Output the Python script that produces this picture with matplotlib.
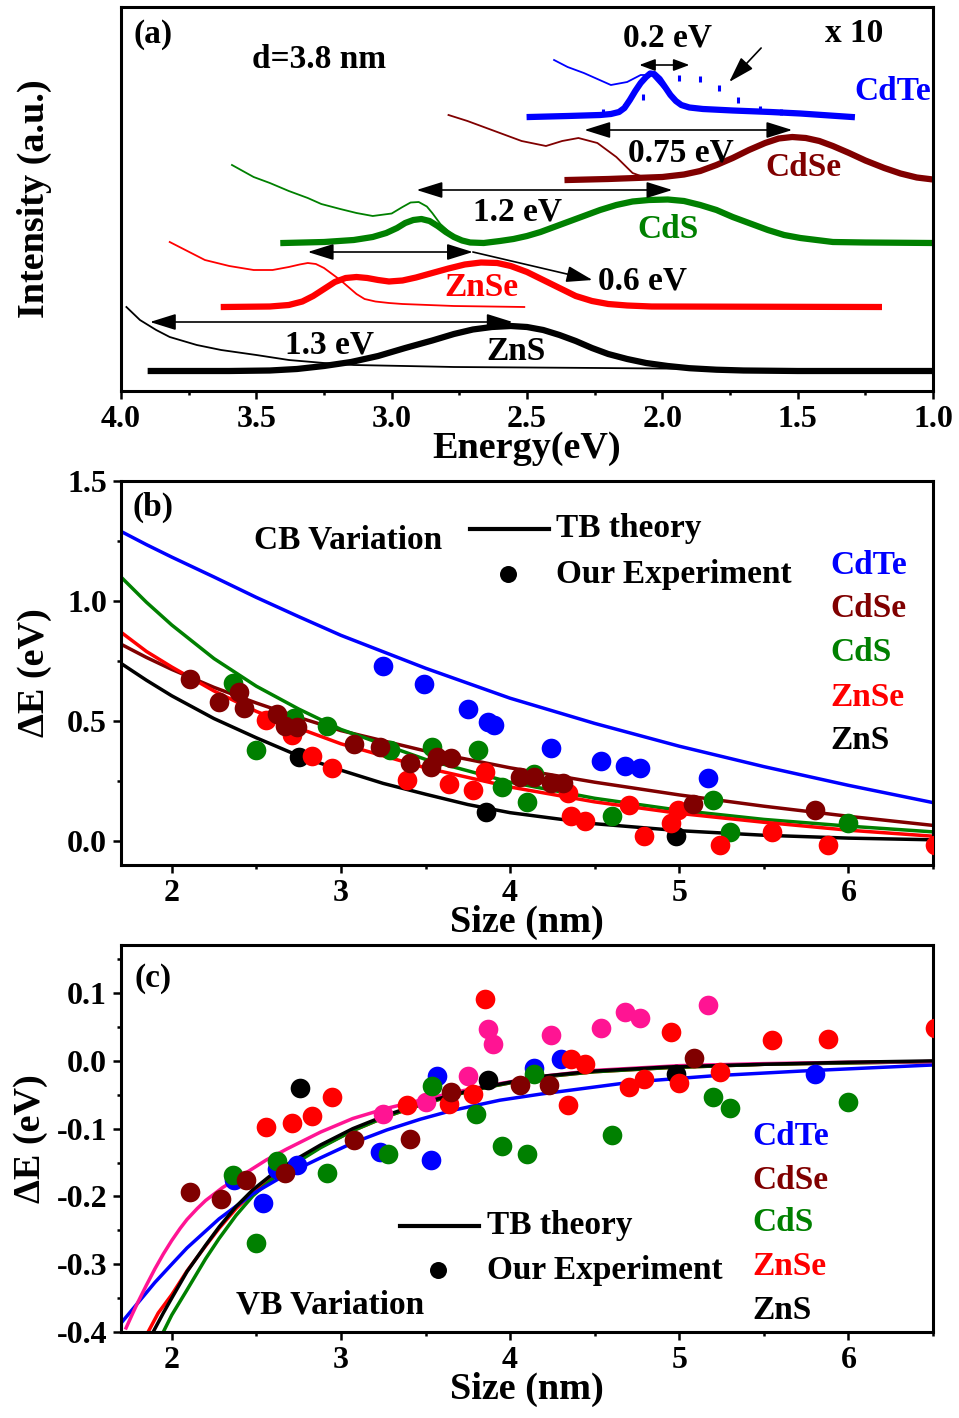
import numpy as np
import matplotlib
matplotlib.use("Agg")
import matplotlib.pyplot as plt
from matplotlib.ticker import MultipleLocator

plt.rcParams['font.family'] = ['Liberation Serif', 'DejaVu Serif']
plt.rcParams['font.weight'] = 'bold'
plt.rcParams['axes.labelweight'] = 'bold'

BLUE = '#0000ff'
DRED = '#800000'
GREEN = '#008000'
RED = '#ff0000'
BLACK = '#000000'
PINK = '#ff1493'

# ---------------- panel (a): spectra (energy in eV, intensity a.u.) ----------------
zns_pl_e = [3.89, 3.6, 3.45, 3.35, 3.25, 3.15, 3.05, 2.95, 2.85, 2.77, 2.70, 2.63, 2.56, 2.50, 2.44,
            2.38, 2.32, 2.26, 2.20, 2.13, 2.06, 1.98, 1.90, 1.80, 1.70, 1.5, 1.0]
zns_pl_i = [20, 20, 20.5, 22, 25, 29, 35, 43, 50.5, 57, 61.5, 64, 65, 64, 61,
            56, 50, 43, 37, 32, 28, 25, 22.8, 21.3, 20.5, 20, 20]
zns_abs_e = [3.98, 3.93, 3.87, 3.82, 3.72, 3.63, 3.5, 3.38, 3.25, 3.14, 2.95, 2.77, 2.5, 2.23, 1.8, 1.0]
zns_abs_i = [84, 71, 61, 54, 46, 41, 36, 31, 28, 26, 25, 24, 23.5, 23, 22, 21]

znse_pl_e = [3.62, 3.45, 3.38, 3.33, 3.29, 3.25, 3.21, 3.17, 3.13, 3.09, 3.05, 3.01, 2.96, 2.91, 2.85,
             2.79, 2.73, 2.67, 2.61, 2.56, 2.50, 2.44, 2.38, 2.32, 2.26, 2.20, 2.13, 2.04, 1.20]
znse_pl_i = [84, 84.5, 86, 89.5, 95, 102, 109, 113, 114, 113, 111, 109.5, 110.5, 113.5, 118,
             122.5, 126.5, 128.5, 128, 125, 119, 111, 103, 95, 90, 87, 85.5, 84.5, 84]
znse_abs_e = [3.82, 3.69, 3.60, 3.51, 3.44, 3.38, 3.34, 3.31, 3.28, 3.25, 3.22, 3.19, 3.16, 3.13, 3.10,
              3.06, 3.01, 2.96, 2.77, 2.51]
znse_abs_i = [149, 131, 125, 121, 121, 124, 126.5, 128, 127, 123, 117, 111, 104, 97, 92,
              89.5, 88, 87, 85, 84]

cds_pl_e = [3.40, 3.25, 3.14, 3.07, 3.02, 2.98, 2.95, 2.92, 2.89, 2.86, 2.83, 2.80, 2.77, 2.74, 2.71,
            2.66, 2.60, 2.55, 2.50, 2.45, 2.40, 2.35, 2.29, 2.23, 2.17, 2.11, 2.05, 1.98, 1.92,
            1.86, 1.80, 1.74, 1.67, 1.61, 1.55, 1.49, 1.43, 1.37, 1.25, 1.0]
cds_pl_i = [148, 149, 151, 154, 158, 163, 168, 171, 172, 170, 165, 159, 154, 150.5, 148.5,
            148, 150, 152, 155, 159, 164, 169, 175, 181, 186, 189.5, 191, 191.5, 190,
            186, 181, 174, 167, 161, 156, 153, 151, 149, 148.5, 148]
cds_abs_e = [3.59, 3.51, 3.45, 3.38, 3.31, 3.26, 3.19, 3.13, 3.07, 3.00, 2.96, 2.93, 2.90, 2.87, 2.85,
             2.82, 2.77, 2.72]
cds_abs_i = [226, 214, 208, 200, 193, 187, 182, 178, 175, 177.5, 184, 188.5, 189, 184.5, 178,
             167, 155, 149]

cdse_pl_e = [2.35, 2.2, 2.1, 2.0, 1.92, 1.86, 1.80, 1.74, 1.68, 1.62, 1.57, 1.52, 1.47, 1.42,
             1.37, 1.31, 1.25, 1.18, 1.12, 1.06, 1.0]
cdse_pl_i = [211, 212, 213, 214, 216.5, 220, 226, 233, 241, 248, 252.5, 254, 253, 250,
             245, 238, 230.5, 223, 217.5, 213.5, 211.5]
cdse_abs_e = [2.79, 2.72, 2.65, 2.58, 2.52, 2.43, 2.37, 2.31, 2.24, 2.17, 2.11, 2.06]
cdse_abs_i = [276, 270, 263, 256, 250, 245, 250, 253, 248, 234, 218, 213]

cdte_pl_e = [2.49, 2.35, 2.23, 2.19, 2.16, 2.14, 2.12, 2.10, 2.08, 2.06, 2.045, 2.03, 2.01, 1.99,
             1.97, 1.95, 1.93, 1.90, 1.85, 1.74, 1.60, 1.49, 1.30]
cdte_pl_i = [274, 275, 276, 277, 279, 283, 291, 300, 308, 314, 317.5, 317, 312, 304,
             296, 290, 286, 283.5, 282, 280.5, 279, 277.5, 274]
cdte_abs_e = [2.40, 2.35, 2.29, 2.24, 2.19, 2.13, 2.08, 2.04, 2.00, 1.97, 1.94, 1.90]
cdte_abs_i = [331, 324, 318, 312, 306, 309, 316, 316, 304, 296, 288, 284]
cdte_dot_e = [2.22, 2.14, 2.07, 1.94, 1.86, 1.79, 1.72, 1.64, 1.56]
cdte_dot_i = [279, 284, 294, 313, 312, 303, 291, 282, 279]

# ---------------- panel (b): CB variation ----------------
cb_size = [1.7, 1.85, 2.0, 2.25, 2.5, 2.75, 3.0, 3.5, 4.0, 4.5, 5.0, 5.5, 6.0, 6.5]
cb_cdte = [1.29, 1.235, 1.183, 1.10, 1.015, 0.935, 0.857, 0.72, 0.595, 0.49, 0.395, 0.31, 0.232, 0.16]
cb_cdse = [0.82, 0.765, 0.715, 0.64, 0.575, 0.515, 0.46, 0.375, 0.305, 0.245, 0.192, 0.145, 0.103, 0.065]
cb_cds = [1.10, 0.995, 0.90, 0.76, 0.645, 0.55, 0.465, 0.34, 0.245, 0.178, 0.128, 0.09, 0.062, 0.038]
cb_znse = [0.87, 0.79, 0.725, 0.625, 0.54, 0.47, 0.405, 0.305, 0.225, 0.163, 0.115, 0.078, 0.045, 0.02]
cb_zns_x = [1.7, 1.85, 2.0, 2.25, 2.5, 2.75, 3.0, 3.25, 3.5, 3.75, 4.0, 4.5, 5.0, 5.5, 6.0, 6.5]
cb_zns = [0.74, 0.67, 0.605, 0.51, 0.43, 0.355, 0.295, 0.24, 0.195, 0.152, 0.118, 0.072, 0.043, 0.024, 0.012, 0.005]

cb_cdte_x = [3.25, 3.49, 3.75, 3.87, 3.905, 4.24, 4.54, 4.68, 4.77, 5.17]
cb_cdte_y = [0.73, 0.654, 0.55, 0.496, 0.483, 0.388, 0.333, 0.313, 0.304, 0.263]
cb_cds_x = [2.36, 2.50, 2.72, 2.92, 3.29, 3.54, 3.81, 3.95, 4.10, 4.14, 4.60, 5.20, 5.30, 6.00]
cb_cds_y = [0.658, 0.379, 0.513, 0.479, 0.379, 0.392, 0.379, 0.225, 0.163, 0.279, 0.104, 0.171, 0.038, 0.075]
cb_znse_x = [2.56, 2.71, 2.83, 2.95, 3.39, 3.64, 3.78, 3.85, 4.34, 4.36, 4.44, 4.70, 4.79, 4.95,
             4.99, 5.24, 5.55, 5.88, 6.51]
cb_znse_y = [0.504, 0.442, 0.354, 0.304, 0.254, 0.238, 0.213, 0.288, 0.20, 0.104, 0.083, 0.15, 0.021, 0.075,
             0.129, -0.017, 0.038, -0.017, -0.017]
cb_cdse_x = [2.11, 2.28, 2.40, 2.43, 2.62, 2.67, 2.74, 3.08, 3.23, 3.41, 3.53, 3.57, 3.65,
             4.06, 4.14, 4.24, 4.31, 5.08, 5.80]
cb_cdse_y = [0.675, 0.579, 0.621, 0.554, 0.53, 0.48, 0.475, 0.404, 0.39, 0.325, 0.31, 0.35, 0.345,
             0.267, 0.267, 0.242, 0.242, 0.154, 0.129]
cb_dot_zns_x = [2.75, 3.86, 4.98]
cb_dot_zns_y = [0.35, 0.121, 0.021]

# ---------------- panel (c): VB variation ----------------
vb_pink_x = [1.73, 1.77, 1.8, 1.85, 1.9, 1.95, 2.0, 2.05, 2.09, 2.15, 2.2, 2.3, 2.44, 2.56, 2.68, 2.88,
             3.07, 3.27, 3.47, 3.66, 3.86, 4.18, 4.5, 5.0, 5.5, 6.0, 6.5]
vb_pink_y = [-0.394, -0.372, -0.356, -0.331, -0.307, -0.285, -0.265, -0.247, -0.234, -0.218, -0.206,
             -0.187, -0.165, -0.146, -0.13, -0.105, -0.085, -0.07, -0.058, -0.047, -0.037, -0.023,
             -0.014, -0.007, -0.004, -0.002, -0.001]
vb_cdte_x = [1.69, 1.8, 1.9, 2.0, 2.09, 2.28, 2.48, 2.68, 2.88, 3.07, 3.27, 3.47, 3.66, 3.94, 4.18,
             4.73, 5.2, 5.72, 6.5]
vb_cdte_y = [-0.39, -0.357, -0.327, -0.30, -0.276, -0.233, -0.196, -0.167, -0.143, -0.121, -0.102,
             -0.086, -0.073, -0.058, -0.049, -0.031, -0.022, -0.015, -0.006]
vb_zns_x = [1.89, 1.95, 2.0, 2.09, 2.2, 2.28, 2.38, 2.48, 2.58, 2.68, 2.88, 3.07, 3.27, 3.47, 3.66,
            3.86, 4.18, 4.5, 4.93, 5.5, 6.0, 6.5]
vb_zns_y = [-0.40, -0.372, -0.35, -0.311, -0.272, -0.245, -0.215, -0.19, -0.17, -0.153, -0.124, -0.10,
            -0.08, -0.063, -0.05, -0.038, -0.023, -0.015, -0.009, -0.005, -0.002, 0.0]
vb_znse_x = [1.86, 1.92, 2.0, 2.09, 2.2, 2.28, 2.38, 2.48, 2.58, 2.68, 2.88, 3.07, 3.27, 3.47, 3.66,
             3.86, 4.18, 4.5, 4.93, 5.5, 6.0, 6.5]
vb_znse_y = [-0.40, -0.372, -0.345, -0.31, -0.273, -0.247, -0.218, -0.194, -0.174, -0.157, -0.127,
             -0.103, -0.082, -0.065, -0.051, -0.039, -0.024, -0.016, -0.010, -0.005, -0.003, -0.001]
vb_cds_x = [1.95, 2.0, 2.09, 2.2, 2.28, 2.38, 2.48, 2.58, 2.68, 2.88, 3.07, 3.27, 3.47, 3.66, 3.86,
            4.18, 4.5, 4.93, 5.5, 6.0, 6.5]
vb_cds_y = [-0.40, -0.375, -0.338, -0.292, -0.262, -0.228, -0.199, -0.177, -0.159, -0.128, -0.103,
            -0.082, -0.065, -0.051, -0.039, -0.024, -0.016, -0.010, -0.005, -0.003, -0.001]

vb_dot_cdte_x = [2.37, 2.54, 2.62, 2.74, 3.23, 3.53, 3.57, 4.14, 4.30, 5.80]
vb_dot_cdte_y = [-0.176, -0.209, -0.159, -0.154, -0.134, -0.146, -0.022, -0.010, 0.003, -0.019]
vb_dot_pink_x = [3.25, 3.50, 3.75, 3.87, 3.90, 4.24, 4.54, 4.68, 4.77, 5.17]
vb_dot_pink_y = [-0.078, -0.061, -0.022, 0.047, 0.025, 0.038, 0.049, 0.072, 0.063, 0.082]
vb_dot_cds_x = [2.36, 2.50, 2.62, 2.92, 3.28, 3.54, 3.80, 3.95, 4.10, 4.14, 4.60, 5.20, 5.30, 6.00]
vb_dot_cds_y = [-0.169, -0.269, -0.147, -0.166, -0.138, -0.037, -0.079, -0.125, -0.137, -0.019,
                -0.110, -0.054, -0.069, -0.061]
vb_dot_znse_x = [2.56, 2.71, 2.83, 2.95, 3.39, 3.64, 3.78, 3.85, 4.34, 4.36, 4.44, 4.70, 4.79, 4.95,
                 5.0, 5.24, 5.55, 5.88, 6.51]
vb_dot_znse_y = [-0.098, -0.091, -0.082, -0.053, -0.065, -0.064, -0.049, 0.091, -0.065, 0.003, -0.005,
                 -0.039, -0.027, 0.043, -0.033, -0.017, 0.031, 0.033, 0.049]
vb_dot_cdse_x = [2.11, 2.29, 2.44, 2.67, 3.08, 3.41, 3.65, 4.06, 4.23, 5.09]
vb_dot_cdse_y = [-0.194, -0.204, -0.175, -0.165, -0.116, -0.115, -0.046, -0.035, -0.035, 0.004]
vb_dot_zns_x = [2.76, 3.87, 4.98]
vb_dot_zns_y = [-0.040, -0.028, -0.019]

labels = ['CdTe', 'CdSe', 'CdS', 'ZnSe', 'ZnS']
label_colors = [BLUE, DRED, GREEN, RED, BLACK]

W, H = 959, 1418
fig = plt.figure(figsize=(W / 100, H / 100), dpi=100)


def box(l, t, r, b):
    return [l / W, 1 - b / H, (r - l) / W, (b - t) / H]


ax_a = fig.add_axes(box(121, 7, 933, 391))
ax_b = fig.add_axes(box(121, 481, 933, 865))
ax_c = fig.add_axes(box(121, 945, 933, 1332))

TICK = 23
TXT = 24

for ax in (ax_a, ax_b, ax_c):
    for s in ax.spines.values():
        s.set_linewidth(2.2)
    ax.tick_params(which='major', direction='out', length=6, width=1.8, labelsize=TICK, pad=4,
                   top=False, right=False)
    ax.tick_params(which='minor', direction='out', length=3, width=1.8, top=False, right=False)

# ---- (a)
pl_w, ab_w = 4.5, 1.3
ax_a.plot(zns_pl_e, zns_pl_i, color=BLACK, lw=pl_w)
ax_a.plot(zns_abs_e, zns_abs_i, color=BLACK, lw=ab_w)
ax_a.plot(znse_pl_e, znse_pl_i, color=RED, lw=pl_w)
ax_a.plot(znse_abs_e, znse_abs_i, color=RED, lw=ab_w)
ax_a.plot(cds_pl_e, cds_pl_i, color=GREEN, lw=pl_w)
ax_a.plot(cds_abs_e, cds_abs_i, color=GREEN, lw=ab_w)
ax_a.plot(cdse_pl_e, cdse_pl_i, color=DRED, lw=pl_w)
ax_a.plot(cdse_abs_e, cdse_abs_i, color=DRED, lw=ab_w)
ax_a.plot(cdte_pl_e, cdte_pl_i, color=BLUE, lw=pl_w)
ax_a.plot(cdte_abs_e, cdte_abs_i, color=BLUE, lw=ab_w)
ax_a.plot(cdte_dot_e, cdte_dot_i, ls='none', marker='|', ms=4, mew=2.2, color=BLUE)

ax_a.set_xlim(4.0, 1.0)
ax_a.set_ylim(0, 384)
ax_a.set_yticks([])
ax_a.xaxis.set_major_locator(MultipleLocator(0.5))
ax_a.xaxis.set_minor_locator(MultipleLocator(0.25))
ax_a.set_xlabel('Energy(eV)', fontsize=27.5, labelpad=-2)
ax_a.set_ylabel('Intensity (a.u.)', fontsize=27.5, labelpad=50)

dbl = dict(arrowstyle='<|-|>,head_length=0.8,head_width=0.25', color='black', lw=1.2,
           mutation_scale=20, shrinkA=0, shrinkB=0)
dbl_small = dict(arrowstyle='<|-|>,head_length=0.8,head_width=0.3', color='black', lw=1.2,
                 mutation_scale=12, shrinkA=0, shrinkB=0)
one = dict(arrowstyle='-|>,head_length=0.8,head_width=0.25', color='black', lw=1.2,
           mutation_scale=20, shrinkA=0, shrinkB=0)
ax_a.annotate('', xy=(1.90, 326), xytext=(2.085, 326), arrowprops=dbl_small)
ax_a.annotate('', xy=(1.753, 309), xytext=(1.635, 343), arrowprops=one)
ax_a.annotate('', xy=(1.52, 261), xytext=(2.288, 261), arrowprops=dbl)
ax_a.annotate('', xy=(1.963, 201), xytext=(2.908, 201), arrowprops=dbl)
ax_a.annotate('', xy=(2.70, 139), xytext=(3.31, 139), arrowprops=dbl)
ax_a.annotate('', xy=(2.258, 111), xytext=(2.70, 139), arrowprops=one)
ax_a.annotate('', xy=(2.553, 69), xytext=(3.893, 69), arrowprops=dbl)

ta = dict(fontsize=TXT, fontweight='bold', ha='center', va='center')
ax_a.text(3.88, 356, '(a)', **ta)
ax_a.text(3.27, 331, 'd=3.8 nm', **ta)
ax_a.text(1.98, 353, '0.2 eV', **ta)
ax_a.text(1.29, 358, 'x 10', **ta)
ax_a.text(1.15, 300, 'CdTe', color=BLUE, **ta)
ax_a.text(1.93, 238, '0.75 eV', **ta)
ax_a.text(1.48, 223, 'CdSe', color=DRED, **ta)
ax_a.text(2.535, 179, '1.2 eV', **ta)
ax_a.text(1.98, 161, 'CdS', color=GREEN, **ta)
ax_a.text(2.67, 104, 'ZnSe', color=RED, **ta)
ax_a.text(2.074, 110, '0.6 eV', **ta)
ax_a.text(3.23, 46, '1.3 eV', **ta)
ax_a.text(2.54, 40, 'ZnS', **ta)

# ---- (b)
lw_t = 2.5
ms = 200
ax_b.plot(cb_zns_x, cb_zns, color=BLACK, lw=lw_t)
ax_b.plot(cb_size, cb_cdse, color=DRED, lw=lw_t)
ax_b.plot(cb_size, cb_cds, color=GREEN, lw=lw_t)
ax_b.plot(cb_size, cb_znse, color=RED, lw=lw_t)
ax_b.plot(cb_size, cb_cdte, color=BLUE, lw=lw_t)
ax_b.scatter(cb_cdte_x, cb_cdte_y, s=ms, color=BLUE, lw=0, zorder=3)
ax_b.scatter(cb_cds_x, cb_cds_y, s=ms, color=GREEN, lw=0, zorder=3)
ax_b.scatter(cb_dot_zns_x, cb_dot_zns_y, s=ms, color=BLACK, lw=0, zorder=3)
ax_b.scatter(cb_znse_x, cb_znse_y, s=ms, color=RED, lw=0, zorder=3)
ax_b.scatter(cb_cdse_x, cb_cdse_y, s=ms, color=DRED, lw=0, zorder=3)

ax_b.set_xlim(1.7, 6.5)
ax_b.set_ylim(-0.1, 1.5)
ax_b.set_xticks([2, 3, 4, 5, 6])
ax_b.xaxis.set_minor_locator(MultipleLocator(0.5))
ax_b.set_yticks([0.0, 0.5, 1.0, 1.5])
ax_b.yaxis.set_minor_locator(MultipleLocator(0.25))
ax_b.set_yticklabels(['0.0', '0.5', '1.0', '1.5'])
ax_b.set_xlabel('Size (nm)', fontsize=27.5, labelpad=-2)
ax_b.set_ylabel('ΔE (eV)', fontsize=27.5, labelpad=11)

ax_b.text(1.89, 1.39, '(b)', **ta)
ax_b.text(3.04, 1.254, 'CB Variation', **ta)
ax_b.plot([3.763, 4.231], [1.30, 1.30], color=BLACK, lw=3, clip_on=False)
ax_b.scatter([3.988], [1.1125], s=150, color=BLACK, lw=0)
ax_b.text(4.272, 1.30, 'TB theory', fontsize=TXT, fontweight='bold', va='center')
ax_b.text(4.272, 1.1125, 'Our Experiment', fontsize=TXT, fontweight='bold', va='center')
for lab, col, yy in zip(labels, label_colors, [1.15, 0.967, 0.7875, 0.60, 0.42]):
    ax_b.text(5.893, yy, lab, color=col, fontsize=TXT, fontweight='bold', va='center')

# ---- (c)
ax_c.plot(vb_znse_x, vb_znse_y, color=RED, lw=lw_t)
ax_c.plot(vb_cds_x, vb_cds_y, color=GREEN, lw=lw_t)
ax_c.plot(vb_cdte_x, vb_cdte_y, color=BLUE, lw=lw_t)
ax_c.plot(vb_pink_x, vb_pink_y, color=PINK, lw=lw_t)
ax_c.plot(vb_zns_x, vb_zns_y, color=BLACK, lw=lw_t)
ax_c.scatter(vb_dot_cdte_x, vb_dot_cdte_y, s=ms, color=BLUE, lw=0, zorder=3)
ax_c.scatter(vb_dot_pink_x, vb_dot_pink_y, s=ms, color=PINK, lw=0, zorder=3)
ax_c.scatter(vb_dot_cds_x, vb_dot_cds_y, s=ms, color=GREEN, lw=0, zorder=3)
ax_c.scatter(vb_dot_zns_x, vb_dot_zns_y, s=ms, color=BLACK, lw=0, zorder=3)
ax_c.scatter(vb_dot_znse_x, vb_dot_znse_y, s=ms, color=RED, lw=0, zorder=3)
ax_c.scatter(vb_dot_cdse_x, vb_dot_cdse_y, s=ms, color=DRED, lw=0, zorder=3)

ax_c.set_xlim(1.7, 6.5)
ax_c.set_ylim(-0.4, 0.171)
ax_c.set_xticks([2, 3, 4, 5, 6])
ax_c.xaxis.set_minor_locator(MultipleLocator(0.5))
ax_c.set_yticks([-0.4, -0.3, -0.2, -0.1, 0.0, 0.1])
ax_c.set_yticklabels(['-0.4', '-0.3', '-0.2', '-0.1', '0.0', '0.1'])
ax_c.yaxis.set_minor_locator(MultipleLocator(0.05))
ax_c.set_xlabel('Size (nm)', fontsize=27.5, labelpad=-2)
ax_c.set_ylabel('ΔE (eV)', fontsize=27.5, labelpad=6)

ax_c.text(1.89, 0.122, '(c)', **ta)
ax_c.text(2.935, -0.36, 'VB Variation', **ta)
ax_c.plot([3.35, 3.817], [-0.243, -0.243], color=BLACK, lw=3)
ax_c.scatter([3.574], [-0.309], s=150, color=BLACK, lw=0)
ax_c.text(3.864, -0.243, 'TB theory', fontsize=TXT, fontweight='bold', va='center')
ax_c.text(3.864, -0.309, 'Our Experiment', fontsize=TXT, fontweight='bold', va='center')
for lab, col, yy in zip(labels, label_colors, [-0.112, -0.176, -0.238, -0.304, -0.369]):
    ax_c.text(5.43, yy, lab, color=col, fontsize=TXT, fontweight='bold', va='center')

fig.savefig('out.png', dpi=100)
